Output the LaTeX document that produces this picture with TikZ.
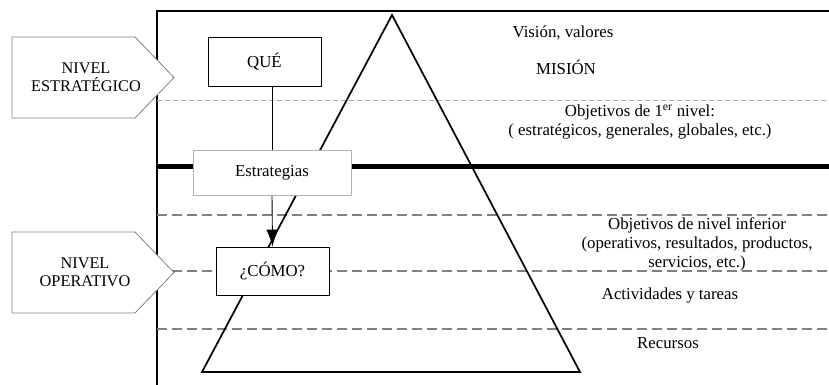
\documentclass[tikz,border=0pt]{standalone}
\usepackage{fontspec}
\setmainfont{Liberation Serif}
\usetikzlibrary{arrows.meta}
\begin{document}
\begin{tikzpicture}[
        x=1pt, y=-1pt,
        font=\fontsize{16.8}{19}\selectfont,
        frame/.style = {line width=1.6pt},
        level/.style = {draw=gray, dash pattern=on 10pt off 5pt, line width=1.3pt},
        thinlevel/.style = {draw=gray!70, dash pattern=on 5pt off 3pt, line width=1pt},
        box/.style = {draw, fill=white, line width=0.9pt, minimum width=#1, minimum height=48pt, inner sep=0pt},
        nivel/.style = {draw=gray, fill=white, line width=0.8pt, line join=miter},
        niveltext/.style = {align=center, font=\fontsize{16.3}{18}\selectfont}
    ]
        \useasboundingbox (0,0) rectangle (829,385);

        \coordinate (TL) at (157, 11);
        \coordinate (TR) at (829, 11);
        \coordinate (BL) at (157,385);
        \draw[frame] (TR) -- (TL) -- (BL);

        \draw[thinlevel] (157,101) -- (829,101);
        \draw[line width=5pt] (157,166) -- (829,166);
        \foreach \y in {215,271,329}
            \draw[level] (157,\y) -- (829,\y);

        \coordinate (apex)  at (392, 15);
        \coordinate (baseL) at (202,372);
        \coordinate (baseR) at (580,372);
        \draw[line width=1.7pt, line join=miter] (apex) -- (baseR) -- (baseL) -- cycle;

        \node[box=113pt, minimum height=49pt] (que)  at (264.5, 61.5) {\raisebox{3pt}{QUÉ}};
        \node[box=158pt, minimum height=45pt, draw=gray!60] (estr) at (272,172.5) {Estrategias};
        \node[box=113pt] (como) at (272.5,271) {¿CÓMO?};

        \draw[line width=0.9pt] (que.south -| estr.north) -- (estr.north);
        \draw[line width=0.9pt, -{Latex[length=17pt,width=12pt]}] (estr.south) -- (como.north);

        \draw[nivel] (12, 37) -- (135, 37) -- (174, 77.5) -- (135,118) -- (12,118) -- cycle;
        \draw[nivel] (12,232) -- (135,232) -- (174,272.5) -- (135,313) -- (12,313) -- cycle;
        \node[niveltext] (nivest) at (86, 77.5) {NIVEL\\ESTRATÉGICO};
        \node[niveltext] (nivop)  at (85,272.5) {NIVEL\\OPERATIVO};

        \node (vision)   at (563, 33) {Visión, valores};
        \node (mision)   at (566, 67) {MISIÓN};
        \node[align=center] (obj1)   at (640,122) {Objetivos de 1\textsuperscript{er} nivel:\\( estratégicos, generales, globales, etc.)};
        \node[align=center] (objinf) at (697,244) {Objetivos de nivel inferior\\(operativos, resultados, productos,\\servicios, etc.)};
        \node (activ)    at (670,295) {Actividades y tareas};
        \node (recursos) at (668,343) {Recursos};
    \end{tikzpicture}
\end{document}
